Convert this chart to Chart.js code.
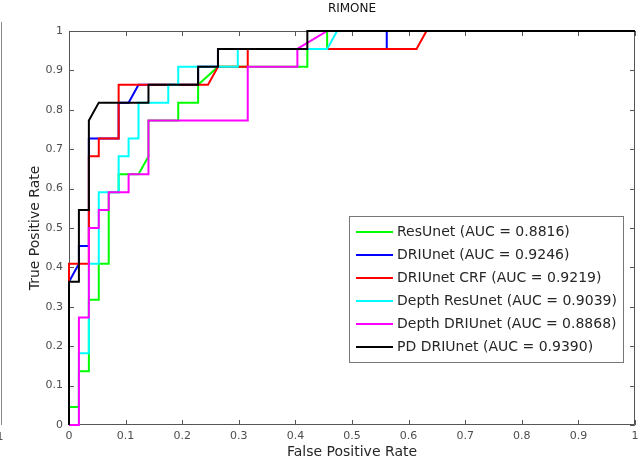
<!DOCTYPE html>
<html>
<head>
<meta charset="utf-8">
<script src="https://cdn.jsdelivr.net/npm/chart.js@4.4.1/dist/chart.umd.min.js"></script>
<style>
html,body{margin:0;padding:0;background:#fff;}
#wrap{width:640px;height:461px;position:relative;}
</style>
</head>
<body>
<div id="wrap"><canvas id="chart"></canvas></div>
<script>
// ROC curves, RIMONE set (22 positives, 57 negatives)
const seriesNames=["ResUnet (AUC = 0.8816)","DRIUnet (AUC = 0.9246)","DRIUnet CRF (AUC = 0.9219)",
  "Depth ResUnet (AUC = 0.9039)","Depth DRIUnet (AUC = 0.8868)","PD DRIUnet (AUC = 0.9390)"];
const seriesColors=["#00ff00","#0000ff","#ff0000","#00ffff","#ff00ff","#000000"];

const resUnetFpr=[0,0,0.0175,0.0175,0.0351,0.0351,0.0526,0.0526,0.0702,0.0702,0.0877,0.0877,0.1228,0.1404,0.1404,0.1930,0.1930,0.2281,0.2281,0.2632,0.4211,0.4211,0.4561,0.4561,1];
const resUnetTpr=[0,0.0455,0.0455,0.1364,0.1364,0.3182,0.3182,0.4091,0.4091,0.5909,0.5909,0.6364,0.6364,0.6818,0.7727,0.7727,0.8182,0.8182,0.8636,0.9091,0.9091,0.9545,0.9545,1,1];

const driUnetFpr=[0,0,0.0175,0.0175,0.0351,0.0351,0.0526,0.0877,0.0877,0.1053,0.1228,0.2281,0.2281,0.2632,0.2632,0.5614,0.5614,1];
const driUnetTpr=[0,0.3636,0.4091,0.4545,0.4545,0.7273,0.7273,0.7273,0.8182,0.8182,0.8636,0.8636,0.9091,0.9091,0.9545,0.9545,1,1];

const driCrfFpr=[0,0,0.0351,0.0351,0.0526,0.0526,0.0877,0.0877,0.2456,0.2632,0.3158,0.3158,0.6140,0.6316,1];
const driCrfTpr=[0,0.4091,0.4091,0.6818,0.6818,0.7273,0.7273,0.8636,0.8636,0.9091,0.9091,0.9545,0.9545,1,1];

const depthResFpr=[0,0.0175,0.0175,0.0351,0.0351,0.0526,0.0526,0.0877,0.0877,0.1053,0.1053,0.1228,0.1228,0.1754,0.1754,0.1930,0.1930,0.2982,0.2982,0.4561,0.4737,1];
const depthResTpr=[0,0,0.1818,0.1818,0.4091,0.4091,0.5909,0.5909,0.6818,0.6818,0.7273,0.7273,0.8182,0.8182,0.8636,0.8636,0.9091,0.9091,0.9545,0.9545,1,1];

const depthDriFpr=[0,0.0175,0.0175,0.0351,0.0351,0.0526,0.0526,0.0702,0.0702,0.1053,0.1053,0.1404,0.1404,0.3158,0.3158,0.4035,0.4035,0.4561,1];
const depthDriTpr=[0,0,0.2727,0.2727,0.5,0.5,0.5455,0.5455,0.5909,0.5909,0.6364,0.6364,0.7727,0.7727,0.9091,0.9091,0.9545,1,1];

const pdDriFpr=[0,0,0.0175,0.0175,0.0351,0.0351,0.0526,0.1404,0.1404,0.2281,0.2281,0.2632,0.2632,0.4211,0.4211,1];
const pdDriTpr=[0,0.3636,0.3636,0.5455,0.5455,0.7727,0.8182,0.8182,0.8636,0.8636,0.9091,0.9091,0.9545,0.9545,1,1];

const tickValues=[0,0.1,0.2,0.3,0.4,0.5,0.6,0.7,0.8,0.9,1];
const tickLabels=["0","0.1","0.2","0.3","0.4","0.5","0.6","0.7","0.8","0.9","1"];

const allFpr=[resUnetFpr,driUnetFpr,driCrfFpr,depthResFpr,depthDriFpr,pdDriFpr];
const allTpr=[resUnetTpr,driUnetTpr,driCrfTpr,depthResTpr,depthDriTpr,pdDriTpr];

Chart.defaults.font.family="'DejaVu Sans', sans-serif";

const datasets=seriesNames.map((name,i)=>({
  label:name,
  data:allFpr[i].map((x,j)=>({x:x,y:allTpr[i][j]})),
  borderColor:seriesColors[i],
  backgroundColor:seriesColors[i],
  borderWidth:2,
  pointRadius:0,
  showLine:true,
  tension:0,
  clip:4,
  order:seriesNames.length-i   // last series on top, like matlab
}));

// box + inward ticks on all four sides
const framePlugin={
  id:"frame",
  beforeDatasetsDraw(chart){
    const {ctx,chartArea:a,scales}=chart;
    ctx.save();
    ctx.strokeStyle="#555";
    ctx.lineWidth=1;
    ctx.beginPath();
    ctx.rect(a.left+0.5,a.top+0.5,a.right-a.left-1,a.bottom-a.top-1);
    tickValues.forEach(v=>{
      const px=Math.round(scales.x.getPixelForValue(v))+0.5;
      ctx.moveTo(px,a.bottom);ctx.lineTo(px,a.bottom-5);
      ctx.moveTo(px,a.top);ctx.lineTo(px,a.top+5);
      const py=Math.round(scales.y.getPixelForValue(v))+0.5;
      ctx.moveTo(a.left,py);ctx.lineTo(a.left+5,py);
      ctx.moveTo(a.right,py);ctx.lineTo(a.right-5,py);
    });
    ctx.stroke();
    // edge of the neighbouring panel, cut off at the left
    ctx.strokeStyle="#8a8a8a";
    ctx.beginPath();
    ctx.moveTo(1.5,22);ctx.lineTo(1.5,425);
    ctx.stroke();
    ctx.fillStyle="#555";
    ctx.font="11px 'DejaVu Sans'";
    ctx.textAlign="center";ctx.textBaseline="middle";
    ctx.fillText("1",0,437);
    ctx.restore();
  }
};

// legend box inside the axes, lower right
const legendPlugin={
  id:"boxLegend",
  afterDatasetsDraw(chart){
    const {ctx,chartArea:a}=chart;
    const left=a.left+280, top=a.top+185, w=274, h=146, rowH=23;
    ctx.save();
    ctx.fillStyle="#fff";
    ctx.fillRect(left,top,w,h);
    ctx.strokeStyle="#777";
    ctx.lineWidth=1;
    ctx.strokeRect(left+0.5,top+0.5,w,h);
    ctx.font="14px 'DejaVu Sans'";
    ctx.textBaseline="middle";
    ctx.textAlign="left";
    chart.data.datasets.forEach((ds,i)=>{
      const cy=top+16+i*rowH;
      ctx.strokeStyle=ds.borderColor;
      ctx.lineWidth=2;
      ctx.beginPath();
      ctx.moveTo(left+7,cy);ctx.lineTo(left+44,cy);
      ctx.stroke();
      ctx.fillStyle="#262626";
      ctx.fillText(ds.label,left+48,cy+0.5);
    });
    ctx.restore();
  }
};

new Chart(document.getElementById("chart"),{
  type:"scatter",
  data:{datasets:datasets},
  plugins:[framePlugin,legendPlugin],
  options:{
    responsive:true,
    maintainAspectRatio:false,
    animation:false,
    layout:{padding:{left:0,right:5,top:0,bottom:0}},
    plugins:{
      legend:{display:false},
      tooltip:{enabled:false},
      title:{display:true,fullSize:false,text:"RIMONE",color:"#111",font:{size:12,weight:"normal"},padding:{top:2,bottom:14.6}}
    },
    scales:{
      x:{
        type:"linear",min:0,max:1,
        afterBuildTicks:s=>{s.ticks=tickValues.map(v=>({value:v}));},
        ticks:{callback:(v,i)=>tickLabels[i],color:"#4d4d4d",font:{size:11},padding:5,maxRotation:0},
        grid:{display:false,drawTicks:false},
        border:{display:false},
        title:{display:true,text:"False Positive Rate",color:"#262626",font:{size:14},padding:{top:0,bottom:0}},
        afterFit:s=>{s.height=36;s.paddingLeft=0;s.paddingRight=0;}
      },
      y:{
        type:"linear",min:0,max:1,
        afterBuildTicks:s=>{s.ticks=tickValues.map(v=>({value:v}));},
        ticks:{callback:(v,i)=>tickLabels[i],color:"#4d4d4d",font:{size:11},padding:6},
        grid:{display:false,drawTicks:false},
        border:{display:false},
        title:{display:true,text:"True Positive Rate",color:"#262626",font:{size:14},padding:{top:27,bottom:0}},
        afterFit:s=>{s.width=69;s.paddingTop=0;s.paddingBottom=0;}
      }
    }
  }
});
</script>
</body>
</html>
